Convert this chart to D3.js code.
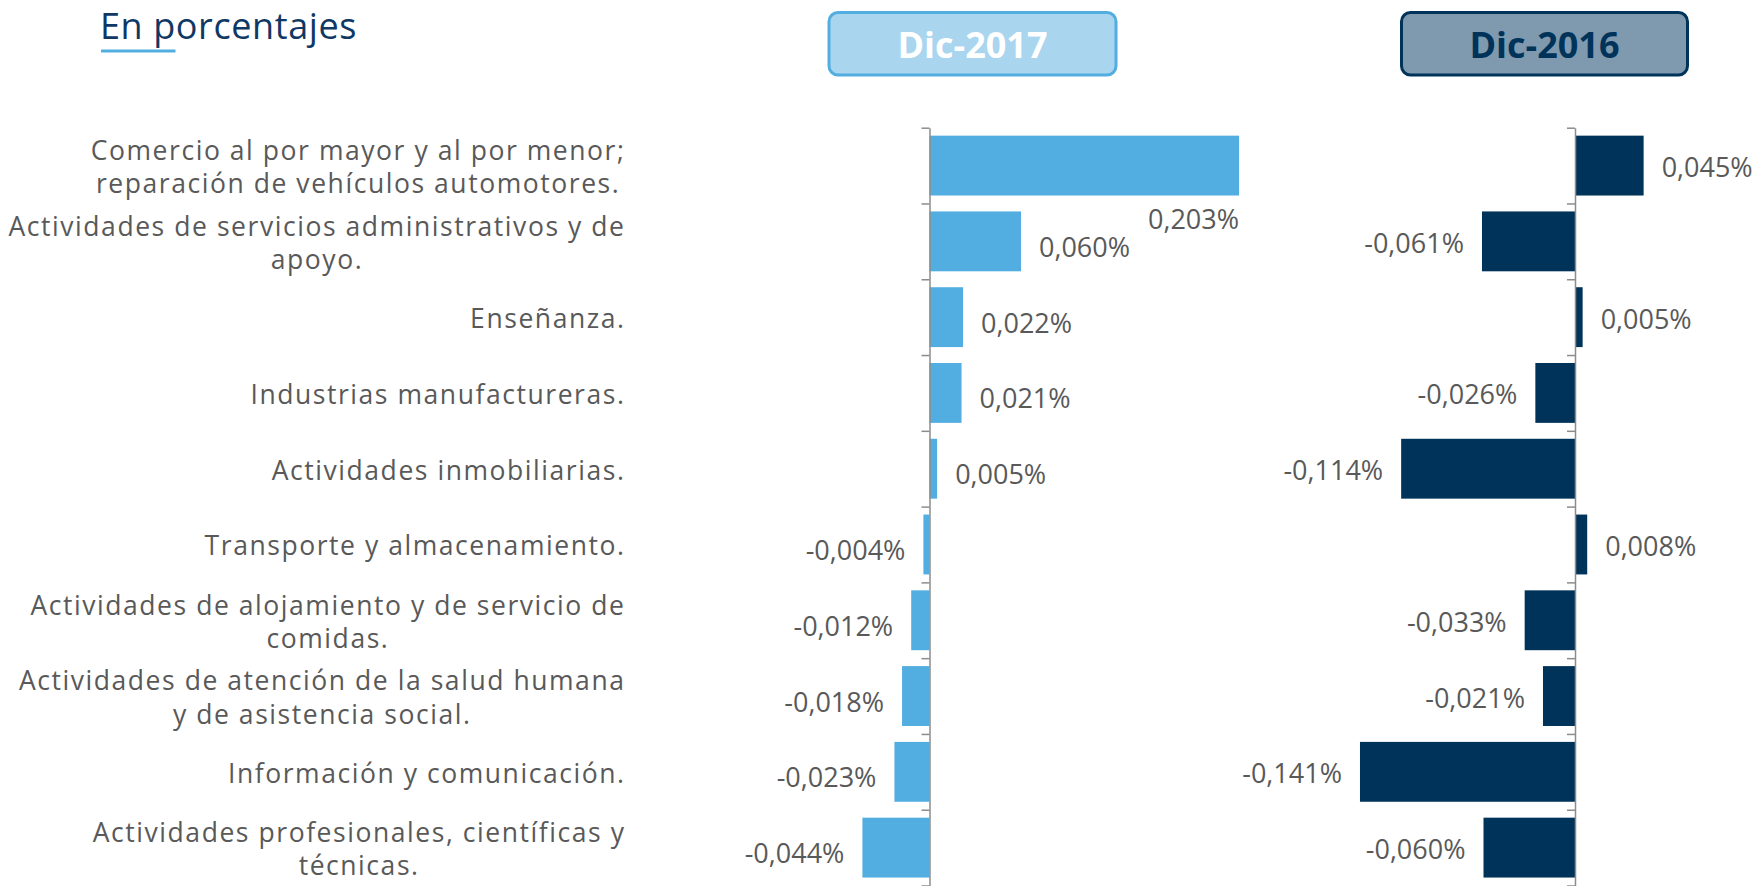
<!DOCTYPE html>
<html>
<head>
<meta charset="utf-8">
<script src="https://cdn.jsdelivr.net/npm/d3@7"></script>
<style>
  html, body { margin: 0; padding: 0; background: #ffffff; }
  svg { display: block; font-family: 'Open Sans', sans-serif; }
</style>
</head>
<body>
<svg id="chart" width="1758" height="886"></svg>
<script>
// ---------- DATA ----------
const categories = [
  "Comercio al por mayor y al por menor;\nreparación de vehículos automotores.",
  "Actividades de servicios administrativos y de\napoyo.",
  "Enseñanza.",
  "Industrias manufactureras.",
  "Actividades inmobiliarias.",
  "Transporte y almacenamiento.",
  "Actividades de alojamiento y de servicio de\ncomidas.",
  "Actividades de atención de la salud humana\ny de asistencia social.",
  "Información y comunicación.",
  "Actividades profesionales, científicas y\ntécnicas."
];
const values2017 = [0.203, 0.060, 0.022, 0.021, 0.005, -0.004, -0.012, -0.018, -0.023, -0.044];
const values2016 = [0.045, -0.061, 0.005, -0.026, -0.114, 0.008, -0.033, -0.021, -0.141, -0.060];
const seriesNames = ["Dic-2017", "Dic-2016"];
const titleText = "En porcentajes";

// ---------- SETUP ----------
const svg = d3.select("#chart");
const W = 1758, H = 886;
const n = categories.length;
const plotTop = 127.7, plotBottom = 885.5;

const y = d3.scaleBand().domain(d3.range(n)).range([plotTop, plotBottom])
  .paddingInner(0.21).paddingOuter(0.105);
const yb = d3.scaleLinear().domain([0, n]).range([plotTop, plotBottom]);

const xL = d3.scaleLinear().domain([-0.06, 0.22]).range([838, 1265]);
const xR = d3.scaleLinear().domain([-0.15, 0.05]).range([1346.25, 1651.25]);

const fmt = v => d3.format(".3f")(v).replace(".", ",").replace("−", "-") + "%";

const panels = [
  { name: seriesNames[0], values: values2017, x: xL, color: "#52aee0", labelDy: 5, overflowX: 1200,
    box: { fill: "#a9d5ef", stroke: "#52aee0", text: "#ffffff", x0: 829, x1: 1116 } },
  { name: seriesNames[1], values: values2016, x: xR, color: "#003359", labelDy: 1, overflowX: Infinity,
    box: { fill: "#7f99ae", stroke: "#003359", text: "#003359", x0: 1401.5, x1: 1687.5 } }
];

// ---------- TITLE ----------
svg.append("text")
  .attr("x", 100).attr("y", 38.5)
  .attr("font-size", 36)
  .attr("letter-spacing", 0.6)
  .attr("fill", "#0f3864")
  .text(titleText);
svg.append("rect")
  .attr("x", 101).attr("y", 49.5).attr("width", 74.5).attr("height", 3)
  .attr("fill", "#52aee0");

// ---------- PANELS ----------
panels.forEach(p => {
  const g = svg.append("g");
  g.append("rect")
    .attr("x", p.box.x0).attr("y", 12.5)
    .attr("width", p.box.x1 - p.box.x0).attr("height", 62.5)
    .attr("rx", 9).attr("ry", 9)
    .attr("fill", p.box.fill).attr("stroke", p.box.stroke).attr("stroke-width", 3);
  g.append("text")
    .attr("x", (p.box.x0 + p.box.x1) / 2).attr("y", 44)
    .attr("text-anchor", "middle").attr("dominant-baseline", "central")
    .attr("font-size", 36).attr("font-weight", 700)
    .attr("fill", p.box.text)
    .text(p.name);

  g.selectAll("rect.bar").data(p.values).join("rect")
    .attr("class", "bar")
    .attr("x", d => p.x(Math.min(0, d)))
    .attr("y", (d, i) => y(i))
    .attr("width", d => Math.abs(p.x(d) - p.x(0)))
    .attr("height", y.bandwidth())
    .attr("fill", p.color);

  const axis = d3.axisLeft(yb).tickValues(d3.range(n + 1)).tickFormat("")
    .tickSize(8).tickSizeOuter(0);
  const ag = g.append("g").attr("transform", `translate(${p.x(0)},0)`).call(axis);
  ag.selectAll("path, line").attr("stroke", "#8c8c8c").attr("stroke-width", 1.5);

  const gap = 18;
  p.values.forEach((v, i) => {
    const t = g.append("text")
      .attr("font-size", 27)
      .attr("fill", "#595959")
      .attr("dominant-baseline", "central")
      .text(fmt(v));
    const w = t.node().getComputedTextLength();
    const cy = y(i) + y.bandwidth() / 2 + p.labelDy;
    if (v >= 0) {
      if (p.x(v) + gap + w > p.overflowX) {
        t.attr("x", p.x(v)).attr("y", y(i) + y.bandwidth() + 23).attr("text-anchor", "end");
      } else {
        t.attr("x", p.x(v) + gap).attr("y", cy).attr("text-anchor", "start");
      }
    } else {
      t.attr("x", p.x(v) - gap).attr("y", cy).attr("text-anchor", "end");
    }
  });
});

// ---------- CATEGORY LABELS ----------
const labelRight = 625.5;
const lineH = 33.5;
const lg = svg.append("g").attr("fill", "#595959").attr("font-size", 26.5);
const blocks = categories.map((c, i) => {
  const lines = c.split("\n");
  return lines.map((ln, k) => lg.append("text")
    .attr("text-anchor", "middle")
    .attr("dominant-baseline", "central")
    .attr("y", y(i) + y.bandwidth() / 2 + 1 + (k - (lines.length - 1) / 2) * lineH)
    .text(ln));
});
// fit letter spacing so the widest line matches the reference's widest line (617 px)
let widest = null, widestW = 0;
blocks.flat().forEach(t => {
  const w = t.node().getComputedTextLength();
  if (w > widestW) { widestW = w; widest = t; }
});
const ls = Math.max(0, (617 - widestW) / widest.node().textContent.length);
lg.attr("letter-spacing", ls);
blocks.forEach(texts => {
  const bw = d3.max(texts, t => t.node().getComputedTextLength());
  texts.forEach(t => t.attr("x", labelRight - bw / 2));
});
</script>
</body>
</html>
